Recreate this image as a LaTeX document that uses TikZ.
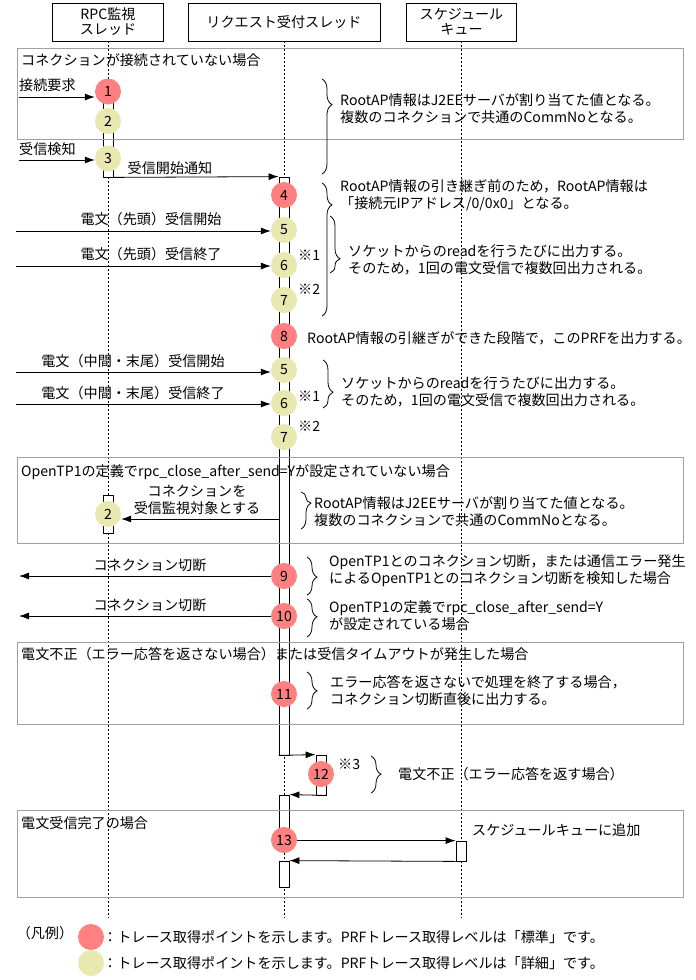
\documentclass[tikz,border=0pt]{standalone}
\usepackage{fontspec}
\setmainfont{Noto Sans CJK JP}
\usetikzlibrary{positioning}
\usetikzlibrary{arrows.meta, decorations.pathreplacing}
\definecolor{stdred}{RGB}{255,128,128}
\definecolor{detyel}{RGB}{232,232,176}
\definecolor{framegray}{RGB}{160,160,160}

\tikzset{
  hdr/.style={draw, line width=0.8pt, inner sep=0pt, align=center, fill=white,
    font=\fontsize{14.1pt}{15pt}\selectfont},
  life/.style={line width=0.7pt, dash pattern=on 2pt off 2pt},
  actbar/.style={draw, fill=white, line width=0.8pt, minimum width=10pt, inner sep=0pt},
  sit/.style={draw=framegray, line width=1pt},
  msg/.style={line width=0.8pt, -{Latex[length=10pt,width=7pt]}},
  stdpt/.style={circle, fill=stdred, minimum size=26pt, inner sep=0pt},
  detpt/.style={circle, fill=detyel, minimum size=26pt, inner sep=0pt},
  lbl/.style={inner sep=0pt},
  note/.style={inner sep=0pt, anchor=west, align=left},
  brc/.style={decorate, decoration={brace, amplitude=10pt, aspect=#1}, line width=0.8pt},
}

\begin{document}
\begin{tikzpicture}[x=1pt, y=-1pt, font=\fontsize{14.1pt}{17pt}\selectfont]
    \fill[white] (0,0) rectangle (696,980);
    \useasboundingbox (0,0) rectangle (696,980);

    % スレッドの見出し
    \node[hdr, minimum width=111pt, minimum height=38pt] (rpc) at (108,22) {RPC監視\\スレッド};
    \node[hdr, minimum width=192pt, minimum height=38pt] (req) at (284,22) {リクエスト受付スレッド};
    \node[hdr, minimum width=110pt, minimum height=38pt] (que) at (461.5,22) {スケジュール\\キュー};

    % ライフライン (点線)
    \coordinate (bot) at (0,918);
    \draw[life] (rpc.south) -- (rpc.south |- bot);
    \draw[life] (req.south) -- (req.south |- bot);
    \draw[life] (que.south) -- (que.south |- bot);

    % 活性区間
    \node[actbar, minimum height=86pt] (b1) at (108,134) {}; % RPC監視 1-3
    \node[actbar, minimum height=578pt] (b2) at (284,466) {}; % 受付 4-11
    \node[actbar, minimum height=40pt] (b3) at (321,775) {}; % 12
    \node[actbar, minimum height=46pt] (b4) at (284,818) {}; % 13
    \node[actbar, minimum height=26pt] (b5) at (284,874) {};
    \node[actbar, minimum height=38pt] (b6) at (108,514) {}; % 2 (2回目)
    \node[actbar, minimum height=20pt] (b7) at (461,851) {}; % キュー

    % 場合分けの枠
    \draw[sit] (17,48) rectangle (683,139);
    \node[lbl, anchor=west] (t1) at (21,60) {コネクションが接続されていない場合};
    \draw[sit] (17,457) rectangle (683,543);
    \node[lbl, anchor=west] (t2) at (21,472) {OpenTP1の定義でrpc\_close\_after\_send=Yが設定されていない場合};
    \draw[sit] (17,642) rectangle (683,724);
    \node[lbl, anchor=west] (t3) at (21,654) {電文不正（エラー応答を返さない場合）または受信タイムアウトが発生した場合};
    \draw[sit] (17,810) rectangle (683,897);
    \node[lbl, anchor=west] (t4) at (21,823) {電文受信完了の場合};

    % トレース取得ポイント
    \node[stdpt] (p1) at (108,91.5) {1};
    \node[detpt] (p2) at (108,121) {2};
    \node[detpt] (p3) at (108,158.5) {3};
    \node[stdpt] (p4) at (284,195) {4};
    \node[detpt] (p5) at (284,230) {5};
    \node[detpt] (p6) at (284,265) {6};
    \node[detpt] (p7) at (284,300) {7};
    \node[stdpt] (p8) at (284,336) {8};
    \node[detpt] (p5b) at (284,370) {5};
    \node[detpt] (p6b) at (284,403) {6};
    \node[detpt] (p7b) at (284,437) {7};
    \node[detpt] (p2b) at (108,514) {2};
    \node[stdpt] (p9) at (284,576) {9};
    \node[stdpt] (p10) at (284,616) {10};
    \node[stdpt] (p11) at (284,694) {11};
    \node[stdpt] (p12) at (321,774) {12};
    \node[stdpt] (p13) at (284,840) {13};

    % メッセージ
    \coordinate (in1) at (19,97);
    \draw[msg] (in1) -- (in1 -| p1.west);
    \node[lbl, anchor=west] (l1) at (19,85) {接続要求};
    \coordinate (in2) at (19,160);
    \draw[msg] (in2) -- (in2 -| p3.west);
    \node[lbl, anchor=west] (l2) at (19,149) {受信検知};
    \draw[msg] (b1.south east) -- (b2.north west);
    \node[lbl] (l3) at (170,168) {受信開始通知};

    \coordinate (in4) at (16,231);
    \draw[msg] (in4) -- (in4 -| p5.west);
    \node[lbl] (l4) at (151,219) {電文（先頭）受信開始};
    \coordinate (in5) at (16,266);
    \draw[msg] (in5) -- (in5 -| p6.west);
    \node[lbl] (l5) at (151,254) {電文（先頭）受信終了};
    \coordinate (in6) at (16,372);
    \draw[msg] (in6) -- (in6 -| p5b.west);
    \node[lbl] (l6) at (133,361) {電文（中間・末尾）受信開始};
    \coordinate (in7) at (16,404);
    \draw[msg] (in7) -- (in7 -| p6b.west);
    \node[lbl] (l7) at (133,393) {電文（中間・末尾）受信終了};

    \coordinate (y8) at (0,519);
    \draw[msg] (b2.west |- y8) -- (p2b.east |- y8);
    \node[lbl, align=center] (l8) at (197,499.5) {コネクションを\\受信監視対象とする};

    \coordinate (out9) at (19,576);
    \draw[msg] (p9.west |- out9) -- (out9);
    \node[lbl] (l9) at (150,565) {コネクション切断};
    \coordinate (out10) at (19,616);
    \draw[msg] (p10.west |- out10) -- (out10);
    \node[lbl] (l10) at (150,605) {コネクション切断};

    \draw[msg] (b2.south west) -- (b3.north west); % 12へ
    \draw[msg] (b3.south east) -- (b4.north east); % 12から戻る
    \draw[msg] (p13.east |- b7.north) -- (b7.north west); % キューへ
    \draw[msg] (b7.south west) -- (b5.north east);

    % 説明 (括弧付き)
    \draw[brc=0.27] (322,79) -- (322,174);
    \node[note] (n1) at (340,108.5) {RootAP情報はJ2EEサーバが割り当てた値となる。\\複数のコネクションで共通のCommNoとなる。};
    \draw[brc=0.165] (322,183) -- (322,316);
    \node[note] (n2) at (340,195) {RootAP情報の引き継ぎ前のため，RootAP情報は\\「接続元IPアドレス/0/0x0」となる。};
    \draw[brc=0.75] (330,216) -- (330,273);
    \node[note] (n3) at (348,259.5) {ソケットからのreadを行うたびに出力する。\\そのため，1回の電文受信で複数回出力される。};
    \node[note] (n4) at (307,338) {RootAP情報の引継ぎができた段階で，このPRFを出力する。};
    \draw[brc=0.67] (323,360) -- (323,408);
    \node[note] (n5) at (341,391.5) {ソケットからのreadを行うたびに出力する。\\そのため，1回の電文受信で複数回出力される。};
    \draw[brc=0.3] (301,492) -- (301,529);
    \node[note] (n6) at (314,511.5) {RootAP情報はJ2EEサーバが割り当てた値となる。\\複数のコネクションで共通のCommNoとなる。};
    \draw[brc=0.53] (307,557) -- (307,595);
    \node[note] (n7) at (329,571) {OpenTP1とのコネクション切断，または通信エラー発生\\によるOpenTP1とのコネクション切断を検知した場合};
    \draw[brc=0.47] (307,599) -- (307,637);
    \node[note] (n8) at (329,616) {OpenTP1の定義でrpc\_close\_after\_send=Y\\が設定されている場合};
    \draw[brc=0.51] (307,672) -- (307,709);
    \node[note] (n9) at (330,691) {エラー応答を返さないで処理を終了する場合，\\コネクション切断直後に出力する。};
    \draw[brc=0.49] (371,756) -- (371,793);
    \node[note] (n10) at (398,774) {電文不正（エラー応答を返す場合）};
    \node[note] (n11) at (472,830) {スケジュールキューに追加};

    % 注記
    \node[note] (m1) at (298,255) {※1};
    \node[note] (m2) at (298,289) {※2};
    \node[note] (m3) at (298,396) {※1};
    \node[note] (m4) at (298,426) {※2};
    \node[note] (m5) at (338,764) {※3};

    % 凡例
    \node[lbl] (lg) at (45,933) {（凡例）};
    \node[stdpt] (lgs) at (91,937) {};
    \node[note] (lgst) at (103,937) {：トレース取得ポイントを示します。PRFトレース取得レベルは「標準」です。};
    \node[detpt] (lgd) at (91,963) {};
    \node[note] (lgdt) at (103,963) {：トレース取得ポイントを示します。PRFトレース取得レベルは「詳細」です。};

\end{tikzpicture}
\end{document}
